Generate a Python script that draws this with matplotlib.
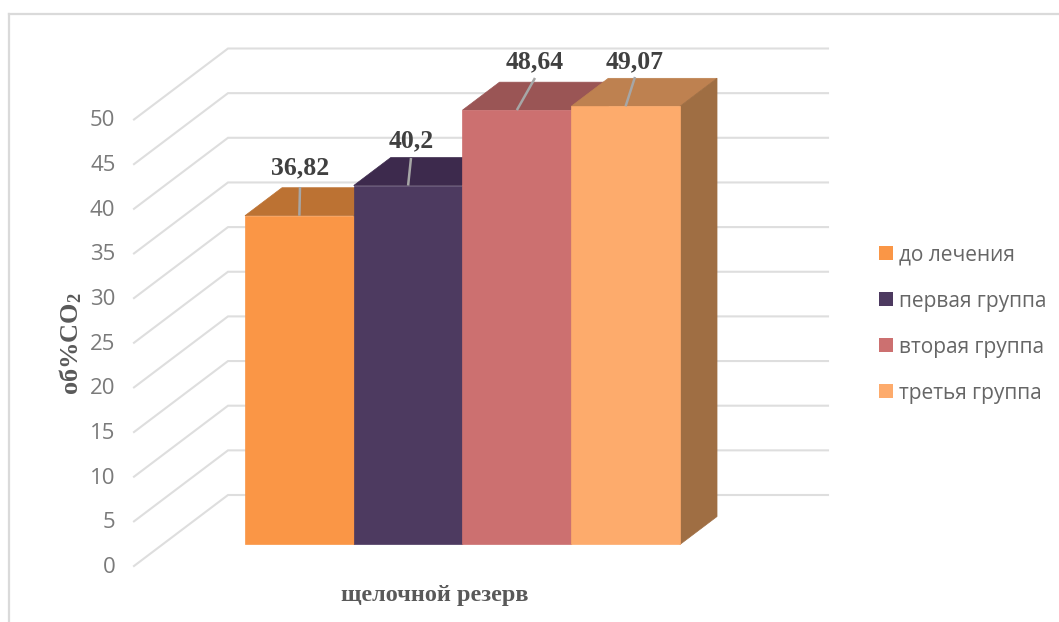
import matplotlib
matplotlib.use("Agg")
import matplotlib.pyplot as plt
from matplotlib.patches import Polygon, Rectangle

series = ["до лечения", "первая группа", "вторая группа", "третья группа"]
values = [36.82, 40.2, 48.64, 49.07]
value_labels = ["36,82", "40,2", "48,64", "49,07"]
ticks = [0, 5, 10, 15, 20, 25, 30, 35, 40, 45, 50]
front_colors = ["#FA9646", "#4D3A60", "#CC7070", "#FDAB6C"]
top_colors = ["#BC7233", "#3D2A4D", "#9A5555", "#BE8150"]
side_color = "#9F6E43"
category = "щелочной резерв"
y_title = "об%CO"

W, H = 1059, 622
fig = plt.figure(figsize=(W / 100, H / 100), dpi=100, facecolor="white")
ax = fig.add_axes([0, 0, 1, 1])
ax.axis("off")

# One x unit is a bar width, y is the axis value; depth is expressed as a shear.
PX_X, PX_V = 108.75, 8.93
ORIGIN_X, ORIGIN_Y = 216.5, 566.0
ax.set_xlim(-ORIGIN_X / PX_X, (W - ORIGIN_X) / PX_X)
ax.set_ylim((ORIGIN_Y - H) / PX_V, ORIGIN_Y / PX_V)
SHEAR_X, SHEAR_V = 94 / PX_X, 71 / PX_V


def pt(x, v, d):
    return x + d * SHEAR_X, v + d * SHEAR_V


def px_x(p):
    return (p - ORIGIN_X) / PX_X


def px_y(p):
    return (ORIGIN_Y - p) / PX_V


# chart frame
FRAME = "#DADADA"
ax.plot([px_x(9.5), px_x(9.5)], [px_y(622), px_y(13.5)], color=FRAME, lw=1.6)
ax.plot([px_x(9.5), px_x(1059)], [px_y(13.5)] * 2, color=FRAME, lw=1.6)

# walls: receding gridlines on the side wall, horizontal ones on the back wall
GRID = "#DEDEDE"
for t in ticks:
    x0 = px_x(134)
    a = pt(x0, t, 0)
    b = pt(x0, t, 1)
    ax.plot([a[0], b[0], px_x(828)], [a[1], b[1], b[1]], color=GRID, lw=1.5,
            solid_joinstyle="miter", zorder=1)
    ax.text(px_x(115.5), t - 0.15, str(t), ha="right", va="center", fontsize=16,
            family="Open Sans", color="#7A7A7A")

# bars, left to right so each front face covers its neighbour's side
D0, D1 = 0.303, 0.697
for i, v in enumerate(values):
    quad_top = [pt(i, v, D0), pt(i + 1, v, D0), pt(i + 1, v, D1), pt(i, v, D1)]
    quad_side = [pt(i + 1, 0, D0), pt(i + 1, v, D0), pt(i + 1, v, D1), pt(i + 1, 0, D1)]
    quad_front = [pt(i, 0, D0), pt(i + 1, 0, D0), pt(i + 1, v, D0), pt(i, v, D0)]
    ax.add_patch(Polygon(quad_top, closed=True, fc=top_colors[i], ec=top_colors[i],
                         lw=0.5, zorder=3 + i))
    ax.add_patch(Polygon(quad_side, closed=True, fc=side_color, ec=side_color,
                         lw=0.5, zorder=3 + i))
    ax.add_patch(Polygon(quad_front, closed=True, fc=front_colors[i], ec=front_colors[i],
                         lw=0.5, zorder=3 + i))

# data labels with leader lines running from the middle of each front top edge
label_px = [(300, 168), (411, 141), (535, 62), (635, 62)]
leader_top_px = [187, 158, 78, 77]
for i, v in enumerate(values):
    foot = pt(i + 0.5, v, D0)
    lx, ly = label_px[i]
    ax.plot([foot[0], px_x(lx)], [foot[1], px_y(leader_top_px[i])],
            color="#A6A6A6", lw=1.8, zorder=10, solid_capstyle="butt")
    ax.text(px_x(lx), px_y(ly), value_labels[i], ha="center", va="center",
            fontsize=18.5, fontweight="bold", family="Liberation Serif", color="#404040", zorder=11)

# axis titles
ax.text(px_x(435), px_y(595), category, ha="center", va="center",
        fontsize=17.5, fontweight="bold", family="Liberation Serif", color="#595959")
ax.text(px_x(71), px_y(344), y_title + "$\\mathregular{_2}$", rotation=90,
        ha="center", va="center", fontsize=19, fontweight="bold",
        family="Liberation Serif", color="#595959")

# legend
handles = [Rectangle((0, 0), 1, 1, fc=c, ec="none") for c in front_colors]
ax.legend(handles, series, loc="upper left", bbox_to_anchor=(879 / W, 1 - 244.5 / H),
          frameon=False, handlelength=0.67, handleheight=0.67, handletextpad=0.3,
          labelspacing=1.2, borderpad=0, borderaxespad=0,
          prop={"family": "Open Sans", "size": 15}, labelcolor="#666666")

fig.savefig("out.png", dpi=100)
